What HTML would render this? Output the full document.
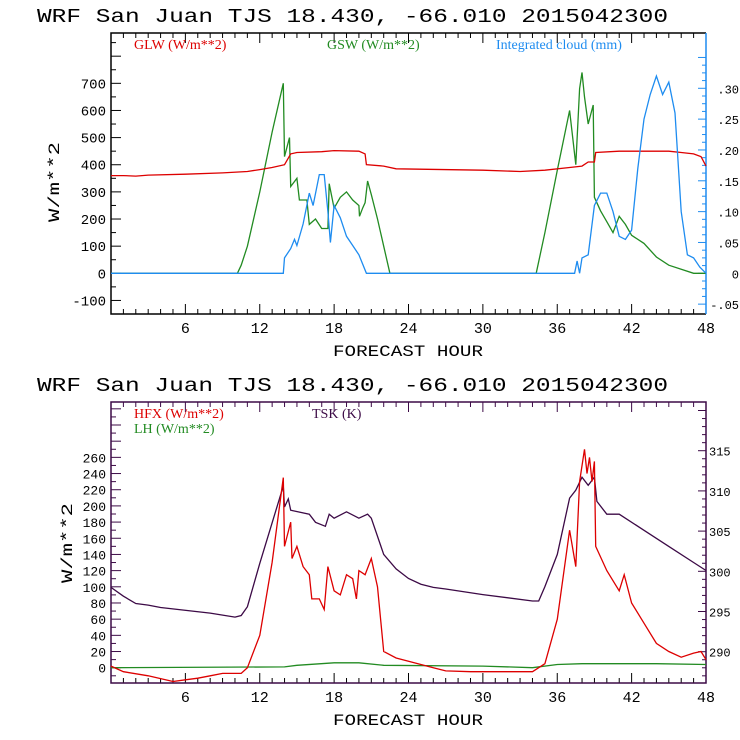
<!DOCTYPE html>
<html><head><meta charset="utf-8"><style>
body{margin:0;background:#fff}
svg{display:block}
text{font-family:"Liberation Mono",monospace}
.lg{font-family:"Liberation Serif",serif;font-size:14px}
</style></head><body>
<svg id="c" width="740" height="740" viewBox="0 0 740 740" xmlns="http://www.w3.org/2000/svg"></svg>
<script>
// ---------- data: top panel ----------
const glwHours=[0,1,2,3,6,9,11,12,13,14,14.5,15,17,18,20,20.5,20.6,22,23,30,33,35,37,38,38.5,39,39.1,41,45,46,47,47.6,48];
const glwValues=[360,360,358,362,365,370,375,382,390,400,440,445,448,452,450,440,400,395,385,380,375,380,390,395,410,410,445,450,450,445,440,430,395];
const gswHours=[0,10.2,10.5,11,12,13,13.9,14,14.4,14.5,15,15.2,15.8,16,16.5,17,17.5,17.6,18,18.5,19,19.5,20,20.05,20.3,20.5,20.7,21,21.5,22,22.5,34.3,35,36,37,37.5,37.8,38,38.2,38.5,38.9,39,39.5,40,40.5,41,41.5,42,43,44,45,46,47,48];
const gswValues=[0,0,30,100,300,520,700,430,500,320,350,270,270,180,200,165,165,330,240,280,300,270,250,210,240,260,340,290,200,100,0,0,150,380,600,400,680,740,650,550,620,280,230,190,150,210,180,140,110,60,30,15,0,0];
const cloudHours=[0,13.9,14,14.5,14.8,15,15.5,16,16.3,16.8,17.2,17.5,17.7,18,18.5,19,19.5,20,20.6,37.4,37.6,37.8,38,38.5,39,39.5,40,40.5,41,41.5,42,42.5,43,43.5,44,44.5,45,45.5,46,46.5,47,47.5,48];
const cloudValues=[0,0,0.025,0.04,0.055,0.045,0.08,0.13,0.11,0.16,0.16,0.10,0.05,0.11,0.09,0.06,0.045,0.03,0,0,0.02,0,0.025,0.03,0.11,0.13,0.13,0.10,0.06,0.055,0.07,0.17,0.25,0.29,0.32,0.29,0.31,0.26,0.10,0.03,0.025,0.01,0];
const topLeftTicks=[-100,0,100,200,300,400,500,600,700];
const topRightTicks=[-0.05,0,0.05,0.10,0.15,0.20,0.25,0.30];
const topRightLabels=["-.05","0",".05",".10",".15",".20",".25",".30"];
// ---------- data: bottom panel ----------
const hfxHours=[0,1,3,5,6,7,8,9,10.5,11,12,13,13.9,14,14.5,14.6,15,15.5,16,16.2,16.8,17.2,17.5,18,18.5,19,19.5,19.8,20,20.5,21,21.5,22,23,24,26,27,29,34,35,36,37,37.5,37.8,38.2,38.4,38.6,38.8,39,39.1,40,41,41.4,42,43,44,45,46,47,47.6,48];
const hfxValues=[2,-5,-10,-17,-15,-13,-10,-7,-7,0,40,130,235,150,180,135,150,125,115,85,85,72,125,95,90,115,110,85,120,115,135,100,20,12,8,0,-4,-5,-5,5,60,170,125,230,270,240,260,230,255,150,120,95,115,80,55,30,20,13,18,20,10];
const tskHours=[0,1,2,3,4,8,10,10.5,11,12,13.9,14,14.3,14.5,16,16.5,17.3,17.6,18,19,20,20.7,21,22,23,24,25,26,27,30,34,34.5,35,36,37,37.5,38,38.5,39,39.2,40,41,43,45,47,48];
const tskValues=[298,296.9,296,295.8,295.5,294.8,294.3,294.5,295.6,301,310.6,308,309,307.6,307.1,306.1,305.6,307.1,306.6,307.4,306.6,307.1,306.6,302.1,300.3,299.1,298.4,298,297.8,297.1,296.3,296.3,298.1,302.1,309.1,310.1,311.7,310.7,311.7,308.7,307.1,307.1,305.1,303.1,301.1,300.1];
const lhHours=[0,14,15,18,20,22,30,34,36,38,44,48];
const lhValues=[0,1,3,6,6,3,2,0,4,5,5,4];
const botLeftTicks=[0,20,40,60,80,100,120,140,160,180,200,220,240,260];
const botRightTicks=[290,295,300,305,310,315];
const xTicks=[6,12,18,24,30,36,42,48];

const NS="http://www.w3.org/2000/svg";
const svg=document.getElementById('c');
function mk(tag,attrs,parent){const e=document.createElementNS(NS,tag);for(const k in attrs)e.setAttribute(k,attrs[k]);(parent||svg).appendChild(e);return e;}
const X0=111,X1=706;
const xs=h=>X0+(X1-X0)*h/48;
const RED="#dd0000",GREEN="#228b22",BLUE="#1e8cf0",PURP="#3c0a46";

function panel(top,bot,name,frameColor){
  const g=mk('g',{});
  
  
  const t=mk('text',{x:37,y:top-11,'font-size':19,textLength:631,lengthAdjust:'spacingAndGlyphs'},g);
  t.textContent="WRF  San Juan TJS  18.430, -66.010  2015042300";
  
  
  for(let h=1;h<48;h++){const maj=h%6==0;mk('line',{x1:xs(h),x2:xs(h),y1:bot,y2:bot-(maj?10:5),stroke:'#000'},g);mk('line',{x1:xs(h),x2:xs(h),y1:top,y2:top+(maj?10:5),stroke:frameColor},g);}
  xTicks.forEach(h=>{const l=mk('text',{x:xs(h),y:bot+19,'font-size':15,'text-anchor':'middle'},g);l.textContent=h;
    
    });
  const xt=mk('text',{x:408,y:bot+42,'font-size':16,'text-anchor':'middle',textLength:150,lengthAdjust:'spacingAndGlyphs'},g);xt.textContent="FORECAST HOUR";
  
  
  return g;
}
function line(hours,vals,ys,color,name){
  let d='';hours.forEach((h,i)=>{d+=(i?'L':'M')+xs(h).toFixed(1)+','+ys(vals[i]).toFixed(1);});
  const p=mk('path',{d:d,fill:'none',stroke:color,'stroke-width':1.3});
  
  
}
function legend(x,y,txt,color,name){const t=mk('text',{x:x,y:y,fill:color,class:'lg'});t.textContent=txt;
  
  }
function ytitle(cx,cy){const t=mk('text',{x:cx,y:cy+6,'font-size':16,'text-anchor':'middle',transform:`rotate(-90 ${cx} ${cy})`,textLength:80,lengthAdjust:'spacingAndGlyphs'});t.textContent="W/m**2";
  
  }

// ----- top panel -----
const T0=33,T1=314;
const yT=v=>273.3-v*0.2714;
const yTR=v=>273.3-v*616.7;
panel(T0,T1,'radiation-panel','#000');
for(let v=-150;v<=850;v+=50){const y=yT(v);if(y<T0+2||y>T1-2)continue;mk('line',{x1:X0,x2:X0+(v%100==0?10:5),y1:y,y2:y,stroke:'#000'});}
topLeftTicks.forEach(v=>{const t=mk('text',{x:106,y:yT(v)+5,'font-size':14,'text-anchor':'end'});t.textContent=v;
  
  });
for(let v=-0.05;v<=0.36;v+=0.0125){const y=yTR(v);if(y<T0+2||y>T1-2)continue;const maj=Math.abs(v/0.05-Math.round(v/0.05))<0.01;mk('line',{x1:X1,x2:X1-(maj?8:4),y1:y,y2:y,stroke:BLUE});}
topRightTicks.forEach((v,i)=>{const t=mk('text',{x:739,y:yTR(v)+5,'font-size':12,'text-anchor':'end'});t.textContent=topRightLabels[i];
  
  });
mk('path',{d:`M${X1},${T0}H${X0}V${T1}H${X1}`,fill:'none',stroke:'#000','stroke-width':1.5});
mk('line',{x1:X1,x2:X1,y1:T0,y2:T1,stroke:BLUE,'stroke-width':1.5});
ytitle(53,182);
line(gswHours,gswValues,yT,GREEN,'gsw-line');
line(glwHours,glwValues,yT,RED,'glw-line');
line(cloudHours,cloudValues,yTR,BLUE,'cloud-line');
legend(134,49,"GLW (W/m**2)",RED,'legend-glw');
legend(327,49,"GSW (W/m**2)",GREEN,'legend-gsw');
legend(496,49,"Integrated cloud (mm)",BLUE,'legend-cloud');

// ----- bottom panel -----
const B0=402,B1=683;
const yB=v=>667.7-v*0.809;
const yBR=v=>651.7-(v-290)*8.04;
panel(B0,B1,'flux-panel',PURP);
for(let v=-10;v<=320;v+=10){const y=yB(v);if(y<B0+2||y>B1-2)continue;mk('line',{x1:X0,x2:X0+(v%20==0?10:5),y1:y,y2:y,stroke:PURP});}
botLeftTicks.forEach(v=>{const t=mk('text',{x:106,y:yB(v)+5,'font-size':13,'text-anchor':'end'});t.textContent=v;
  
  });
for(let v=286;v<=320;v+=1){const y=yBR(v);if(y<B0+2||y>B1-2)continue;mk('line',{x1:X1,x2:X1-(v%5==0?8:4),y1:y,y2:y,stroke:PURP});}
botRightTicks.forEach(v=>{const t=mk('text',{x:709,y:yBR(v)+5,'font-size':12});t.textContent=v;
  
  });
mk('rect',{x:X0,y:B0,width:X1-X0,height:B1-B0,fill:'none',stroke:PURP,'stroke-width':1.5});
ytitle(66,543);
line(lhHours,lhValues,yB,GREEN,'lh-line');
line(tskHours,tskValues,yBR,PURP,'tsk-line');
line(hfxHours,hfxValues,yB,RED,'hfx-line');
legend(134,418,"HFX (W/m**2)",RED,'legend-hfx');
legend(312,418,"TSK (K)",PURP,'legend-tsk');
legend(134,433,"LH  (W/m**2)",GREEN,'legend-lh');
</script>
</body></html>
